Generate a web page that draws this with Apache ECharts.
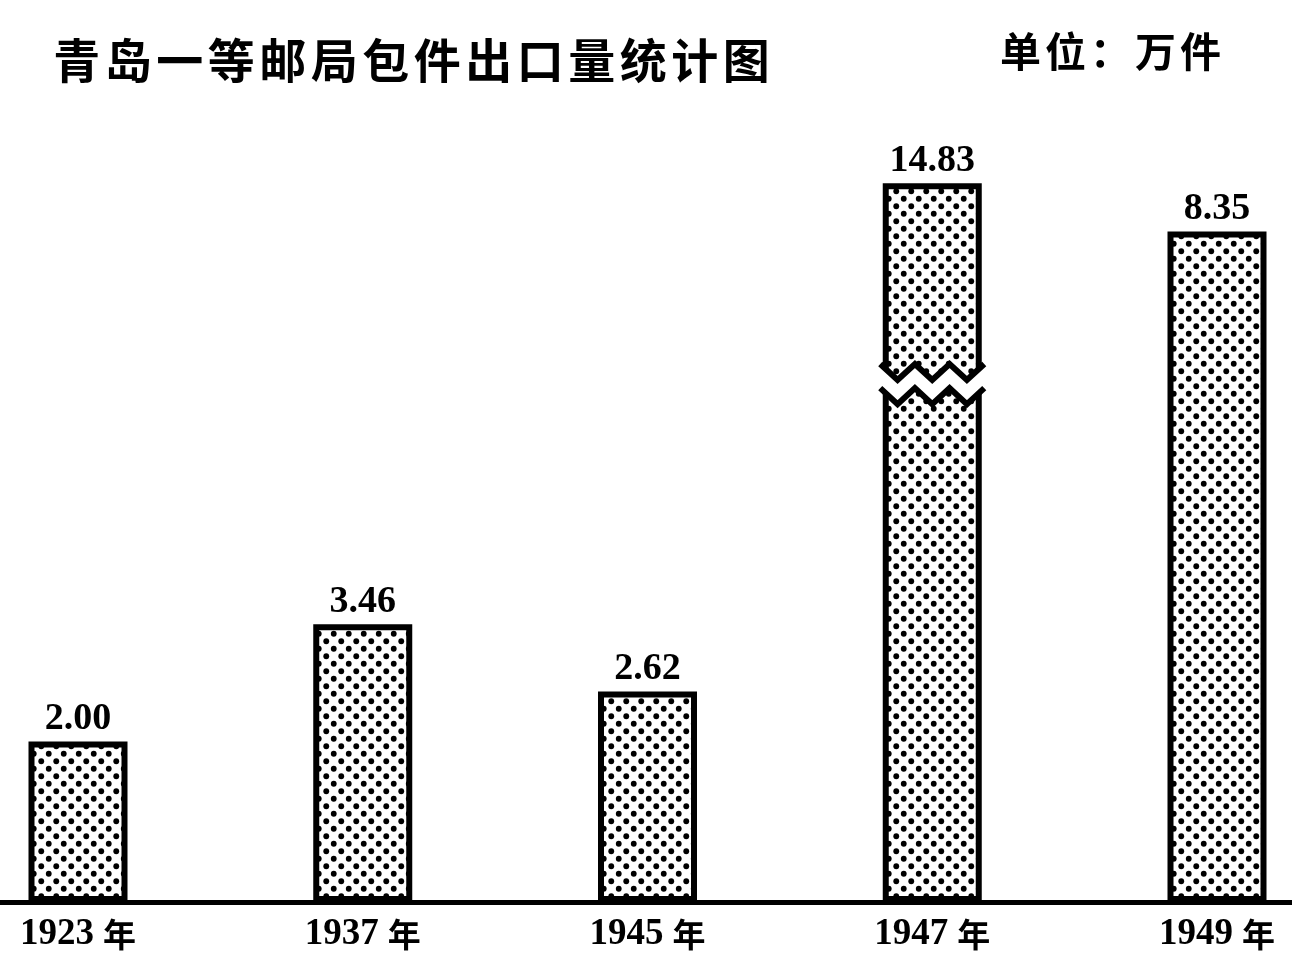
<!DOCTYPE html>
<html>
<head>
<meta charset="utf-8">
<script src="https://cdn.jsdelivr.net/npm/echarts@6.0.0/dist/echarts.min.js"></script>
<style>html,body{margin:0;padding:0;background:#fff;}#main{width:1292px;height:971px;}</style>
</head>
<body>
<div id="main"></div>
<script>
// ---- data ----
const categories = ['1923', '1937', '1945', '1947', '1949'];
const yearSuffix = '年';
const values = [2.00, 3.46, 2.62, 14.83, 8.35];
const titleText = '青岛一等邮局包件出口量统计图';
const unitText = '单位：万件';
// the 1947 bar is drawn truncated (broken bar) at this height
const truncatedIndex = 3;
const truncatedHeight = 8.95;
const breakLow = 6.3;   // top of the lower piece
const breakHigh = 6.6;  // bottom of the upper piece

// dot pattern
function makePattern() {
  const s = 15;
  const c = document.createElement('canvas');
  c.width = s; c.height = s;
  const g = c.getContext('2d');
  g.fillStyle = '#fff'; g.fillRect(0, 0, s, s);
  g.fillStyle = '#000';
  [[s / 4, s / 4], [3 * s / 4, 3 * s / 4]].forEach(p => { g.beginPath(); g.arc(p[0], p[1], 2.9, 0, Math.PI * 2); g.fill(); });
  return c;
}
const pattern = { image: makePattern(), repeat: 'repeat' };

function spaced(str, key) {
  return Array.from(str).map(ch => '{' + key + '|' + ch + '}').join('');
}

const barData = values.map((v, i) => i === truncatedIndex ? Math.min(v, truncatedHeight) : v);

const chart = echarts.init(document.getElementById('main'), null, { renderer: 'canvas' });
const gridTop = 99, gridBottom = 69;
chart.setOption({
  backgroundColor: '#fff',
  animation: false,
  title: [
    { text: spaced(titleText, 't'), left: 46, top: 32,
      textStyle: { rich: { t: { fontSize: 47, fontFamily: 'Noto Sans CJK SC', fontWeight: 'bold', color: '#000', width: 51.5, align: 'center' } } } },
    { text: spaced(unitText, 'u'), left: 993, top: 26,
      textStyle: { rich: { u: { fontSize: 41, fontFamily: 'Noto Sans CJK SC', fontWeight: 'bold', color: '#000', width: 45, align: 'center' } } } }
  ],
  grid: [
    { left: 78, right: 75, top: gridTop, bottom: gridBottom },
    { left: 0, right: 0, top: gridTop, bottom: gridBottom }
  ],
  xAxis: [
    { type: 'category', gridIndex: 0, data: categories, boundaryGap: false,
      axisLine: { show: false }, axisTick: { show: false }, splitLine: { show: false },
      axisLabel: { interval: 0, margin: 14, formatter: v => '{d|' + v + '}{c|' + yearSuffix + '}',
        rich: { d: { fontSize: 37, fontFamily: 'Liberation Serif', fontWeight: 'bold', color: '#000' },
                c: { fontSize: 33, fontFamily: 'Noto Sans CJK SC', fontWeight: 'bold', color: '#000', padding: [0, 0, 0, 9] } } } },
    { type: 'value', gridIndex: 1, min: 0, max: 1,
      axisLine: { show: true, lineStyle: { color: '#000', width: 5 } },
      axisTick: { show: false }, axisLabel: { show: false }, splitLine: { show: false } }
  ],
  yAxis: [
    { type: 'value', gridIndex: 0, min: 0, max: 10, show: false, splitLine: { show: false } },
    { type: 'value', gridIndex: 1, show: false, min: 0, max: 1 }
  ],
  series: [
    { type: 'bar', xAxisIndex: 0, yAxisIndex: 0, data: barData, barWidth: 99, clip: false, z: 2,
      itemStyle: { color: pattern, borderColor: '#000', borderWidth: 6 },
      label: { show: true, position: 'top', distance: 3, formatter: p => values[p.dataIndex].toFixed(2),
        fontSize: 38, fontFamily: 'Liberation Serif', fontWeight: 'bold', color: '#000' } },
    { type: 'custom', xAxisIndex: 0, yAxisIndex: 0, clip: false, z: 5, silent: true,
      data: [[truncatedIndex, breakLow, breakHigh]],
      renderItem: function (params, api) {
        const i = api.value(0);
        const pL = api.coord([i, api.value(1)]);
        const pU = api.coord([i, api.value(2)]);
        const cx = pL[0];
        const half = 52, amp = 8, n = 6;
        const up = [], low = [];
        for (let k = 0; k <= n; k++) {
          const x = cx - half + (2 * half) * k / n;
          const s = (k % 2 === 0) ? -amp : amp;
          up.push([x, pU[1] + s]);
          low.push([x, pL[1] + s]);
        }
        const poly = up.map(p => p.slice());
        poly[0][0] -= 4; poly[n][0] += 4;
        const lowR = low.map(p => p.slice()).reverse();
        lowR[0][0] += 4; lowR[n][0] -= 4;
        return { type: 'group', children: [
          { type: 'polygon', shape: { points: poly.concat(lowR) }, style: { fill: '#fff', stroke: null } },
          { type: 'polyline', shape: { points: up }, style: { stroke: '#000', lineWidth: 6, fill: null, lineJoin: 'miter' } },
          { type: 'polyline', shape: { points: low }, style: { stroke: '#000', lineWidth: 6, fill: null, lineJoin: 'miter' } }
        ] };
      } }
  ]
});
</script>
</body>
</html>
